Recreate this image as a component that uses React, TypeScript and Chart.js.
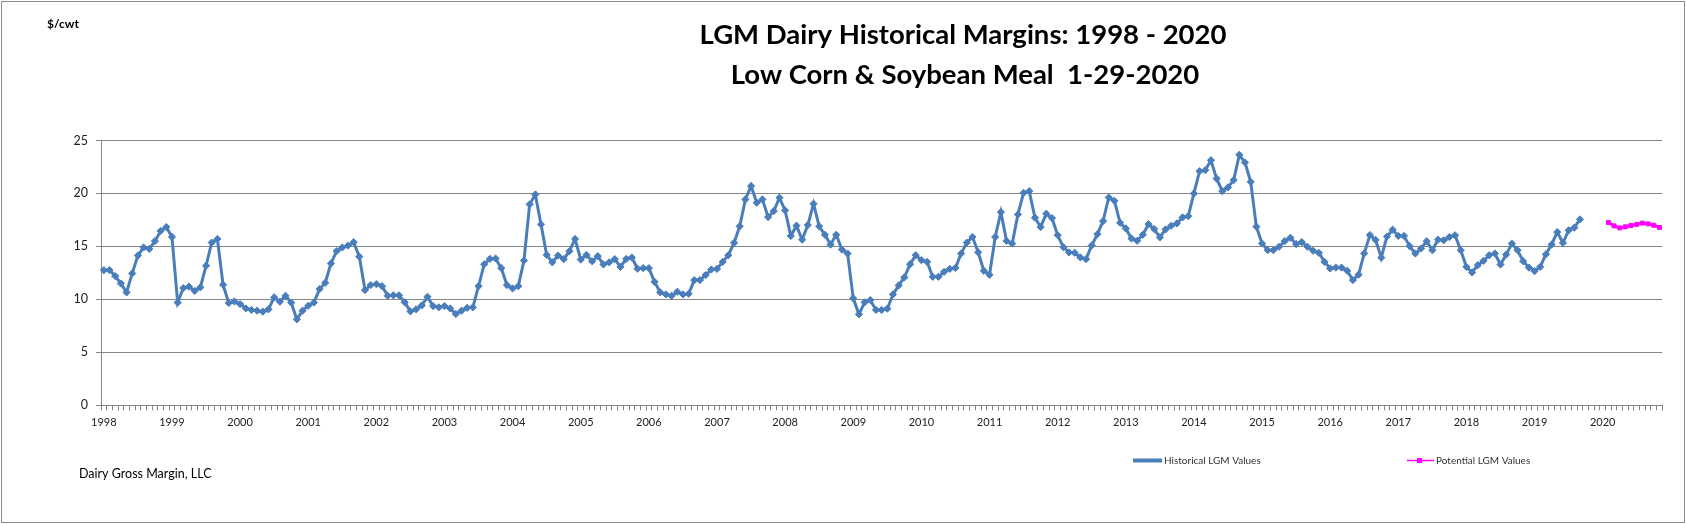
import { useEffect, useRef } from 'react';
import { Chart, registerables } from 'chart.js';

Chart.register(...registerables);

// Monthly margins ($/cwt), Jan..Dec of each year
const hist1998 = [12.76, 12.76, 12.2, 11.5, 10.66, 12.45, 14.14, 14.9, 14.76, 15.5, 16.46, 16.83];
const hist1999 = [15.9, 9.7, 11.07, 11.2, 10.8, 11.13, 13.17, 15.36, 15.7, 11.38, 9.66, 9.8];
const hist2000 = [9.56, 9.15, 9.0, 8.93, 8.84, 9.06, 10.2, 9.78, 10.34, 9.69, 8.12, 8.93];
const hist2001 = [9.4, 9.7, 10.97, 11.57, 13.39, 14.55, 14.9, 15.08, 15.4, 14.04, 10.88, 11.35];
const hist2002 = [11.44, 11.25, 10.34, 10.38, 10.38, 9.72, 8.87, 9.06, 9.43, 10.25, 9.37, 9.25];
const hist2003 = [9.37, 9.15, 8.62, 8.93, 9.2, 9.25, 11.25, 13.32, 13.82, 13.86, 12.95, 11.35];
const hist2004 = [11.03, 11.25, 13.67, 18.97, 19.9, 17.08, 14.2, 13.5, 14.14, 13.8, 14.55, 15.7];
const hist2005 = [13.76, 14.2, 13.6, 14.08, 13.3, 13.5, 13.8, 13.07, 13.82, 13.95, 12.9, 12.95];
const hist2006 = [12.95, 11.66, 10.66, 10.47, 10.34, 10.72, 10.47, 10.53, 11.82, 11.82, 12.29, 12.82];
const hist2007 = [12.88, 13.54, 14.17, 15.33, 16.9, 19.44, 20.7, 19.12, 19.44, 17.77, 18.34, 19.6];
const hist2008 = [18.4, 15.99, 16.96, 15.64, 17.02, 19.03, 16.9, 16.1, 15.17, 16.1, 14.7, 14.33];
const hist2009 = [10.1, 8.59, 9.72, 9.94, 9.0, 9.0, 9.12, 10.47, 11.32, 12.07, 13.32, 14.17];
const hist2010 = [13.7, 13.54, 12.13, 12.13, 12.6, 12.88, 12.98, 14.33, 15.36, 15.89, 14.45, 12.7];
const hist2011 = [12.32, 15.89, 18.24, 15.52, 15.27, 18.02, 20.06, 20.22, 17.71, 16.83, 18.09, 17.68];
const hist2012 = [16.06, 14.93, 14.43, 14.4, 13.96, 13.8, 15.09, 16.16, 17.39, 19.62, 19.3, 17.23];
const hist2013 = [16.7, 15.75, 15.53, 16.1, 17.1, 16.64, 15.85, 16.6, 16.95, 17.17, 17.74, 17.86];
const hist2014 = [20.0, 22.1, 22.2, 23.14, 21.4, 20.22, 20.57, 21.26, 23.65, 22.92, 21.1, 16.86];
const hist2015 = [15.28, 14.65, 14.65, 14.97, 15.5, 15.82, 15.22, 15.41, 14.97, 14.59, 14.4, 13.55];
const hist2016 = [12.92, 13.0, 13.0, 12.7, 11.82, 12.33, 14.34, 16.07, 15.62, 13.94, 15.93, 16.58];
const hist2017 = [15.99, 15.99, 15.02, 14.33, 14.8, 15.49, 14.64, 15.64, 15.58, 15.89, 16.05, 14.64];
const hist2018 = [13.07, 12.54, 13.23, 13.64, 14.17, 14.33, 13.29, 14.23, 15.27, 14.64, 13.6, 13.0];
const hist2019 = [12.66, 13.07, 14.26, 15.17, 16.36, 15.33, 16.52, 16.77, 17.55]; // Jan..Sep

// Potential values, Feb..Nov 2020
const potential2020 = [17.26, 16.94, 16.75, 16.85, 16.98, 17.08, 17.2, 17.13, 17.0, 16.79];
const POTENTIAL_START = '2020-02';

const YEARS = [1998, 1999, 2000, 2001, 2002, 2003, 2004, 2005, 2006, 2007, 2008, 2009, 2010,
  2011, 2012, 2013, 2014, 2015, 2016, 2017, 2018, 2019, 2020];
const LAST_MONTH = 11; // axis runs through Nov 2020

const Y_TICKS = [0, 5, 10, 15, 20, 25];

const TITLE = ['LGM Dairy Historical Margins: 1998 - 2020', 'Low Corn & Soybean Meal  1-29-2020'];
const UNIT_LABEL = '$/cwt';
const FOOTER = 'Dairy Gross Margin, LLC';
const SERIES_NAMES = ['Historical LGM Values', 'Potential LGM Values'];

const BLUE = '#4a7ebb';
const PINK = '#ff00ff';
const GRID = '#868686';
const FONT = 'Lato, "Open Sans", sans-serif';

const labels: string[] = [];
YEARS.forEach((y, yi) => {
  const n = yi === YEARS.length - 1 ? LAST_MONTH : 12;
  for (let m = 1; m <= n; m++) labels.push(`${y}-${String(m).padStart(2, '0')}`);
});

const historical = [
  hist1998, hist1999, hist2000, hist2001, hist2002, hist2003, hist2004, hist2005,
  hist2006, hist2007, hist2008, hist2009, hist2010, hist2011, hist2012, hist2013,
  hist2014, hist2015, hist2016, hist2017, hist2018, hist2019,
].flat();

const potentialStart = labels.indexOf(POTENTIAL_START);
const potential: (number | null)[] = labels.map((_, i) =>
  i >= potentialStart && i < potentialStart + potential2020.length ? potential2020[i - potentialStart] : null
);

// Excel-style extras: frame, title, unit label, footer, legend
const decor = {
  id: 'decor',
  afterDraw(chart: any) {
    const ctx = chart.ctx as CanvasRenderingContext2D;
    ctx.save();
    ctx.strokeStyle = '#8c8c8c';
    ctx.lineWidth = 1;
    ctx.strokeRect(1.5, 1.5, chart.width - 3, chart.height - 3);

    ctx.fillStyle = '#000';
    ctx.textBaseline = 'alphabetic';
    ctx.textAlign = 'center';
    ctx.font = `bold 27.5px ${FONT}`;
    ctx.fillText(TITLE[0], 963, 44);
    ctx.fillText(TITLE[1], 965, 83.5);

    ctx.textAlign = 'left';
    ctx.font = `bold 12px ${FONT}`;
    ctx.fillText(UNIT_LABEL, 47, 28);

    ctx.font = `12.5px ${FONT}`;
    ctx.fillText(FOOTER, 79, 478);

    // legend
    const ly = 460.5;
    ctx.strokeStyle = BLUE;
    ctx.lineWidth = 4;
    ctx.beginPath();
    ctx.moveTo(1133, ly);
    ctx.lineTo(1162, ly);
    ctx.stroke();
    ctx.strokeStyle = PINK;
    ctx.lineWidth = 1.5;
    ctx.beginPath();
    ctx.moveTo(1407, ly);
    ctx.lineTo(1434, ly);
    ctx.stroke();
    ctx.fillStyle = PINK;
    ctx.fillRect(1417, ly - 2.5, 5, 5);

    ctx.fillStyle = '#333';
    ctx.font = `10px ${FONT}`;
    ctx.textBaseline = 'middle';
    ctx.fillText(SERIES_NAMES[0], 1164, ly);
    ctx.fillText(SERIES_NAMES[1], 1436, ly);
    ctx.restore();
  },
};

export default function App() {
  const canvasRef = useRef<HTMLCanvasElement | null>(null);

  useEffect(() => {
    if (!canvasRef.current) return;
    const chart = new Chart(canvasRef.current, {
      type: 'line',
      data: {
        labels,
        datasets: [
          {
            label: SERIES_NAMES[0],
            data: historical,
            borderColor: BLUE,
            backgroundColor: BLUE,
            borderWidth: 3,
            pointStyle: 'rectRot',
            pointRadius: 3.6,
            pointBorderWidth: 1,
            tension: 0,
          },
          {
            label: SERIES_NAMES[1],
            data: potential,
            borderColor: PINK,
            backgroundColor: PINK,
            borderWidth: 3,
            pointStyle: 'rect',
            pointRadius: 2.8,
            pointBorderWidth: 1,
            tension: 0,
          },
        ],
      },
      plugins: [decor],
      options: {
        animation: false,
        responsive: true,
        maintainAspectRatio: false,
        layout: { padding: { left: 0, top: 140.5, right: 23.7, bottom: 0 } },
        plugins: {
          legend: { display: false },
          title: { display: false },
          tooltip: { enabled: false },
        },
        scales: {
          x: {
            type: 'category',
            offset: true,
            afterFit: (scale: any) => {
              scale.height = 118.7;
            },
            grid: {
              display: true,
              drawOnChartArea: false,
              drawTicks: true,
              tickLength: 5,
              offset: true,
              color: GRID,
            },
            border: { display: true, color: GRID, width: 1 },
            ticks: {
              autoSkip: false,
              maxRotation: 0,
              minRotation: 0,
              padding: 6,
              color: '#222',
              font: { family: FONT, size: 11 },
              callback: function (this: any, value: any) {
                const l: string = this.getLabelForValue(value);
                return l.endsWith('-01') ? l.slice(0, 4) : '';
              },
            },
          },
          y: {
            min: Y_TICKS[0],
            max: Y_TICKS[Y_TICKS.length - 1],
            afterFit: (scale: any) => {
              scale.width = 101;
            },
            afterBuildTicks: (scale: any) => {
              scale.ticks = Y_TICKS.map((v) => ({ value: v }));
            },
            grid: { color: GRID, tickLength: 5, drawTicks: true },
            border: { display: true, color: GRID, width: 1 },
            ticks: {
              padding: 8,
              color: '#222',
              font: { family: FONT, size: 12.5 },
            },
          },
        },
      },
    });
    return () => chart.destroy();
  }, []);

  return (
    <div style={{ position: 'absolute', left: 0, top: 0, width: 1686, height: 524, background: '#fff' }}>
      <canvas ref={canvasRef} />
    </div>
  );
}
